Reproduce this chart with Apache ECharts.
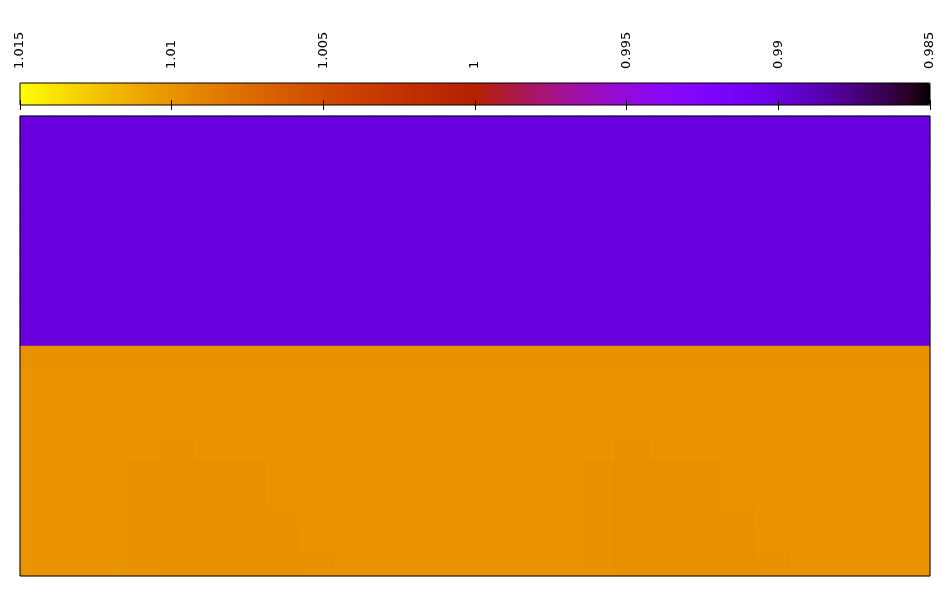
<!DOCTYPE html>
<html>
<head>
<meta charset="utf-8">
<script src="https://cdn.jsdelivr.net/npm/echarts@6/dist/echarts.min.js"></script>
<style>
html, body {margin: 0; padding: 0; background: #fff;}
#chart {width: 950px; height: 600px;}
</style>
</head>
<body>
<div id="chart"></div>
<script>
// colour scale
const colorMin = 0.985;
const colorMax = 1.015;
const colorbarTicks = [1.015, 1.01, 1.005, 1, 0.995, 0.99, 0.985];

// heatmap grid (columns left->right, rows top->bottom)
const columns = [0, 1, 2, 3, 4, 5, 6, 7, 8, 9, 10, 11, 12, 13, 14, 15, 16, 17, 18, 19, 20, 21, 22, 23, 24, 25];
const rows = [0, 1, 2, 3, 4, 5, 6, 7, 8, 9, 10, 11, 12, 13, 14, 15, 16, 17, 18, 19];

// upper half is flat
const upperRow = [0.990, 0.990, 0.990, 0.990, 0.990, 0.990, 0.990, 0.990, 0.990, 0.990, 0.990, 0.990, 0.990,
                  0.990, 0.990, 0.990, 0.990, 0.990, 0.990, 0.990, 0.990, 0.990, 0.990, 0.990, 0.990, 0.990];
// lower half, row by row
const lowerRows = [
    [1.0099, 1.0099, 1.0099, 1.0099, 1.0099, 1.0099, 1.0099, 1.0099, 1.0099, 1.0099, 1.0099, 1.0099, 1.0099, 1.0099, 1.0099, 1.0099, 1.0099, 1.0099, 1.0099, 1.0099, 1.0099, 1.0099, 1.0099, 1.0099, 1.0099, 1.0099],
    [1.0100, 1.0100, 1.0100, 1.0100, 1.0100, 1.0100, 1.0100, 1.0100, 1.0100, 1.0100, 1.0100, 1.0100, 1.0100, 1.0100, 1.0100, 1.0100, 1.0100, 1.0100, 1.0100, 1.0100, 1.0100, 1.0100, 1.0100, 1.0100, 1.0100, 1.0100],
    [1.0100, 1.0100, 1.0100, 1.0100, 1.0100, 1.0100, 1.0100, 1.0100, 1.0100, 1.0100, 1.0100, 1.0100, 1.0100, 1.0100, 1.0100, 1.0100, 1.0100, 1.0100, 1.0100, 1.0100, 1.0100, 1.0100, 1.0100, 1.0100, 1.0100, 1.0100],
    [1.0100, 1.0100, 1.0100, 1.0100, 1.0100, 1.0100, 1.0100, 1.0100, 1.0100, 1.0100, 1.0100, 1.0100, 1.0100, 1.0100, 1.0100, 1.0100, 1.0100, 1.0100, 1.0100, 1.0100, 1.0100, 1.0100, 1.0100, 1.0100, 1.0100, 1.0100],
    [1.0100, 1.0100, 1.0100, 1.0100, 1.0099, 1.0100, 1.0100, 1.0100, 1.0100, 1.0100, 1.0100, 1.0100, 1.0100, 1.0100, 1.0100, 1.0100, 1.0100, 1.0099, 1.0100, 1.0100, 1.0100, 1.0100, 1.0100, 1.0100, 1.0100, 1.0100],
    [1.0100, 1.0100, 1.0100, 1.0099, 1.0098, 1.0098, 1.0099, 1.0100, 1.0100, 1.0100, 1.0100, 1.0100, 1.0100, 1.0100, 1.0100, 1.0100, 1.0099, 1.0098, 1.0098, 1.0099, 1.0100, 1.0100, 1.0100, 1.0100, 1.0100, 1.0100],
    [1.0100, 1.0100, 1.0100, 1.0099, 1.0098, 1.0098, 1.0098, 1.0100, 1.0100, 1.0100, 1.0100, 1.0100, 1.0100, 1.0100, 1.0100, 1.0100, 1.0099, 1.0098, 1.0098, 1.0098, 1.0100, 1.0100, 1.0100, 1.0100, 1.0100, 1.0100],
    [1.0100, 1.0100, 1.0100, 1.0099, 1.0098, 1.0098, 1.0098, 1.0099, 1.0100, 1.0100, 1.0100, 1.0100, 1.0100, 1.0100, 1.0100, 1.0100, 1.0099, 1.0098, 1.0098, 1.0098, 1.0099, 1.0100, 1.0100, 1.0100, 1.0100, 1.0100],
    [1.0100, 1.0100, 1.0100, 1.0099, 1.0098, 1.0098, 1.0098, 1.0098, 1.0100, 1.0100, 1.0100, 1.0100, 1.0100, 1.0100, 1.0100, 1.0100, 1.0099, 1.0098, 1.0098, 1.0098, 1.0098, 1.0100, 1.0100, 1.0100, 1.0100, 1.0100],
    [1.0100, 1.0100, 1.0100, 1.0099, 1.0098, 1.0098, 1.0098, 1.0098, 1.0099, 1.0100, 1.0100, 1.0100, 1.0100, 1.0100, 1.0100, 1.0100, 1.0099, 1.0098, 1.0098, 1.0098, 1.0098, 1.0099, 1.0100, 1.0100, 1.0100, 1.0100]
];

// gnuplot default palette (rgbformulae 7,5,15)
function paletteColor(t) {
    const r = Math.sqrt(t);
    const g = t * t * t;
    const b = Math.max(0, Math.sin(2 * Math.PI * t));
    return 'rgb(' + Math.round(r * 255) + ',' + Math.round(g * 255) + ',' + Math.round(b * 255) + ')';
}
const palette = [];
for (let i = 0; i <= 64; i++) {
    palette.push(paletteColor(i / 64));
}

const values = [];
for (let r = 0; r < 10; r++) values.push(upperRow);
for (let r = 0; r < lowerRows.length; r++) values.push(lowerRows[r]);

let heatData = [];
for (let r = 0; r < rows.length; r++) {
    for (let c = 0; c < columns.length; c++) {
        heatData.push([c, r, values[r][c]]);
    }
}

const chart = echarts.init(document.getElementById('chart'));
const option = {
    animation: false,
    grid: [
        {
            left: 20, width: 910, top: 83, height: 22,
            show: true, z: 10,
            backgroundColor: 'transparent',
            borderColor: '#000', borderWidth: 1
        },
        {
            left: 20, width: 910, top: 116, height: 460,
            show: true, z: 10,
            backgroundColor: 'transparent',
            borderColor: '#000', borderWidth: 1
        }
    ],
    xAxis: [
        {
            type: 'value', gridIndex: 0, position: 'top', z: 10,
            min: colorMin, max: colorMax, inverse: true,
            axisLine: {show: false},
            splitLine: {show: false},
            axisTick: {
                show: true, inside: true, length: 5,
                customValues: colorbarTicks,
                lineStyle: {color: '#000', width: 1}
            },
            axisLabel: {
                show: true, rotate: 90, margin: 14,
                customValues: colorbarTicks,
                showMinLabel: true, showMaxLabel: true,
                color: '#000', fontFamily: 'DejaVu Sans', fontSize: 13
            }
        },
        {
            type: 'value', gridIndex: 0, position: 'bottom', z: 10,
            min: colorMin, max: colorMax, inverse: true,
            axisLine: {show: false},
            splitLine: {show: false},
            axisLabel: {show: false},
            axisTick: {
                show: true, inside: true, length: 5,
                customValues: colorbarTicks,
                lineStyle: {color: '#000', width: 1}
            }
        },
        {
            type: 'category', gridIndex: 1, data: columns, show: false
        }
    ],
    yAxis: [
        {
            type: 'value', gridIndex: 0, min: 0, max: 1, show: false
        },
        {
            type: 'category', gridIndex: 1, data: rows, inverse: true, show: false
        }
    ],
    visualMap: {
        type: 'continuous',
        seriesIndex: 0,
        min: colorMin, max: colorMax,
        orient: 'horizontal', inverse: true,
        left: 20, top: 83, padding: 0,
        itemWidth: 22, itemHeight: 910,
        calculable: false, hoverLink: false,
        inRange: {color: palette}
    },
    series: [
        {
            type: 'heatmap',
            xAxisIndex: 2, yAxisIndex: 1,
            data: heatData,
            itemStyle: {borderWidth: 0},
            emphasis: {disabled: true},
            progressive: 0
        }
    ]
};
chart.setOption(option);
</script>
</body>
</html>
